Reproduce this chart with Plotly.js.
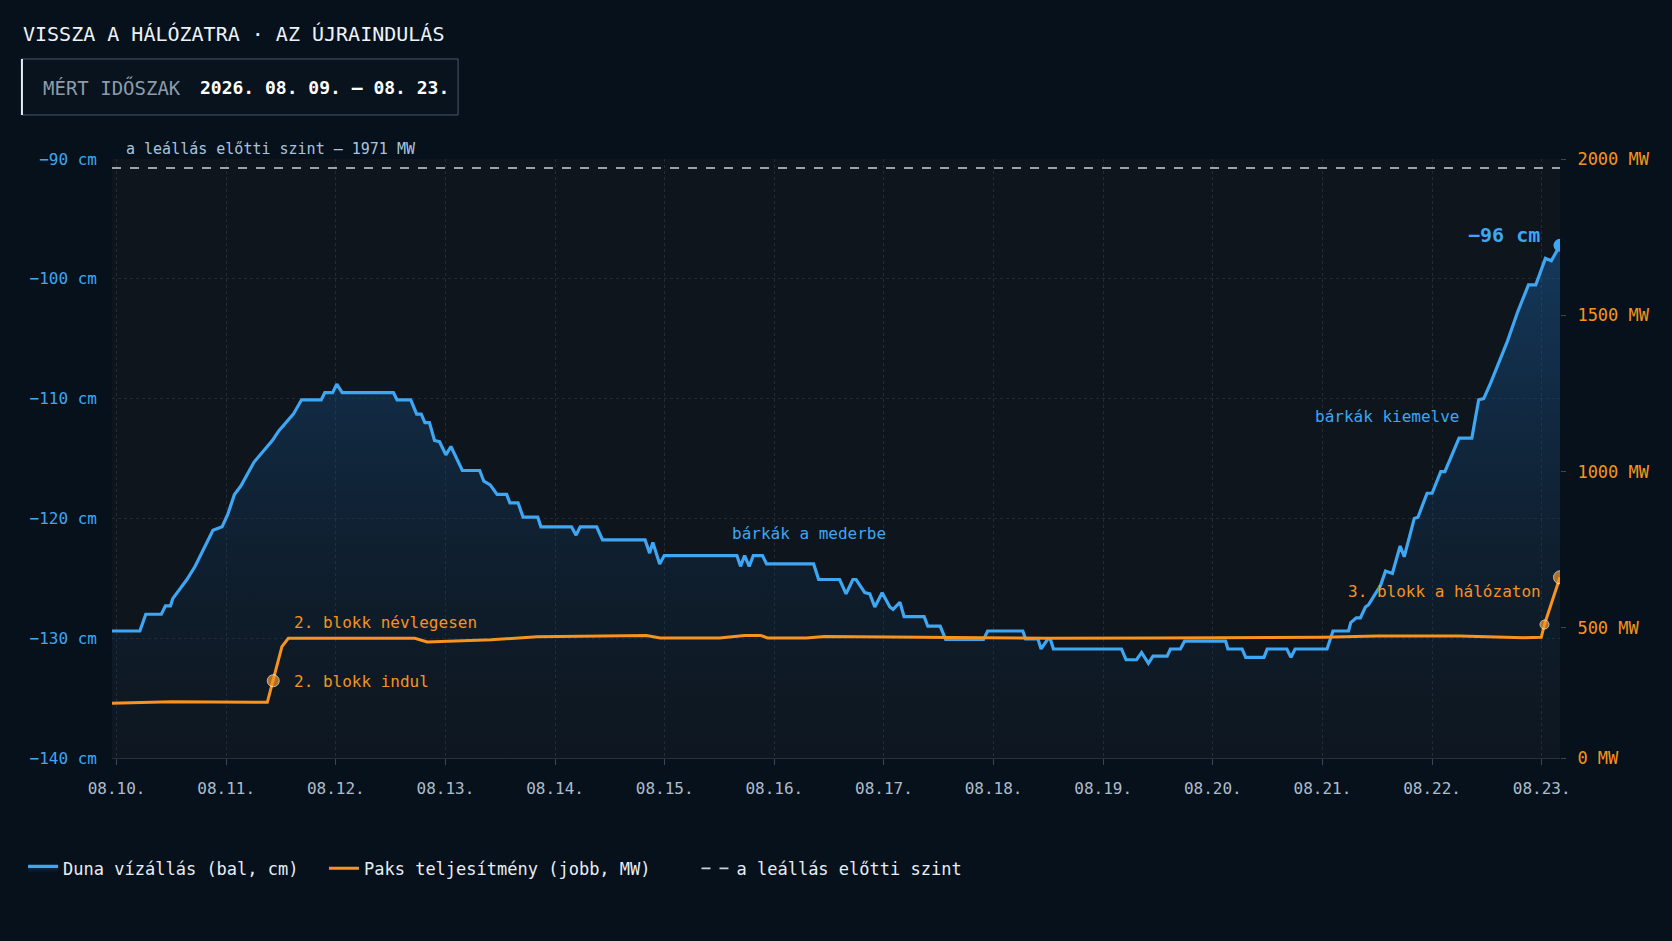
<!DOCTYPE html>
<html>
<head>
<meta charset="utf-8">
<script src="https://cdn.plot.ly/plotly-3.0.1.min.js"></script>
<style>
  html, body { margin: 0; padding: 0; background: #06111c; }
  #chart { width: 1672px; height: 941px; }
</style>
</head>
<body>
<div id="chart"></div>
<script>
// Duna vízállás (cm), leolvasva a mért időszakból
var levelTimes = [
  '2026-08-09 23:00', '2026-08-10 05:06', '2026-08-10 06:24', '2026-08-10 09:48', '2026-08-10 10:42',
  '2026-08-10 11:48', '2026-08-10 12:18', '2026-08-10 13:36', '2026-08-10 15:24', '2026-08-10 17:12',
  '2026-08-10 19:12', '2026-08-10 21:06', '2026-08-10 23:06', '2026-08-11 00:24', '2026-08-11 01:48',
  '2026-08-11 03:12', '2026-08-11 06:06', '2026-08-11 07:30', '2026-08-11 10:06', '2026-08-11 11:30',
  '2026-08-11 13:36', '2026-08-11 14:42', '2026-08-11 16:30', '2026-08-11 20:48', '2026-08-11 21:36',
  '2026-08-11 23:18', '2026-08-12 00:12', '2026-08-12 01:24', '2026-08-12 12:36', '2026-08-12 13:24',
  '2026-08-12 16:24', '2026-08-12 17:42', '2026-08-12 18:42', '2026-08-12 19:30', '2026-08-12 20:30',
  '2026-08-12 21:36', '2026-08-12 22:42', '2026-08-13 00:06', '2026-08-13 01:12', '2026-08-13 03:42',
  '2026-08-13 07:30', '2026-08-13 08:24', '2026-08-13 09:48', '2026-08-13 11:18', '2026-08-13 13:24',
  '2026-08-13 14:06', '2026-08-13 15:54', '2026-08-13 17:00', '2026-08-13 20:12', '2026-08-13 20:54',
  '2026-08-14 03:36', '2026-08-14 04:36', '2026-08-14 05:30', '2026-08-14 09:06', '2026-08-14 10:24',
  '2026-08-14 19:42', '2026-08-14 20:42', '2026-08-14 21:24', '2026-08-14 22:54', '2026-08-14 23:54',
  '2026-08-15 15:48', '2026-08-15 16:36', '2026-08-15 17:30', '2026-08-15 18:30', '2026-08-15 19:24',
  '2026-08-15 21:24', '2026-08-15 22:18', '2026-08-16 08:36', '2026-08-16 09:42', '2026-08-16 14:18',
  '2026-08-16 15:42', '2026-08-16 17:12', '2026-08-16 17:54', '2026-08-16 19:48', '2026-08-16 20:54',
  '2026-08-16 22:00', '2026-08-16 23:36', '2026-08-17 01:18', '2026-08-17 02:00', '2026-08-17 03:30',
  '2026-08-17 04:24', '2026-08-17 08:48', '2026-08-17 09:36', '2026-08-17 12:18', '2026-08-17 13:30',
  '2026-08-17 21:48', '2026-08-17 22:42', '2026-08-18 06:24', '2026-08-18 07:00', '2026-08-18 09:42',
  '2026-08-18 10:24', '2026-08-18 11:54', '2026-08-18 12:24', '2026-08-18 13:06', '2026-08-19 04:00',
  '2026-08-19 05:00', '2026-08-19 07:18', '2026-08-19 08:24', '2026-08-19 09:54', '2026-08-19 10:54',
  '2026-08-19 14:00', '2026-08-19 14:42', '2026-08-19 16:54', '2026-08-19 17:48', '2026-08-20 02:48',
  '2026-08-20 03:18', '2026-08-20 06:24', '2026-08-20 07:12', '2026-08-20 11:12', '2026-08-20 11:54',
  '2026-08-20 16:12', '2026-08-20 17:06', '2026-08-20 18:00', '2026-08-21 01:00', '2026-08-21 02:18',
  '2026-08-21 05:42', '2026-08-21 06:12', '2026-08-21 07:24', '2026-08-21 08:18', '2026-08-21 09:24',
  '2026-08-21 10:06', '2026-08-21 12:42', '2026-08-21 13:48', '2026-08-21 15:18', '2026-08-21 17:00',
  '2026-08-21 17:54', '2026-08-21 20:06', '2026-08-21 20:54', '2026-08-21 22:54', '2026-08-22 00:00',
  '2026-08-22 01:54', '2026-08-22 02:48', '2026-08-22 05:54', '2026-08-22 08:42', '2026-08-22 10:12',
  '2026-08-22 11:18', '2026-08-22 12:48', '2026-08-22 16:30', '2026-08-22 18:42', '2026-08-22 21:06',
  '2026-08-22 22:42', '2026-08-23 00:48', '2026-08-23 02:06', '2026-08-23 04:00'
];
var levelCm = [
  -129.4, -129.4, -128, -128, -127.3,
  -127.3, -126.7, -126, -125.1, -124,
  -122.4, -121, -120.7, -119.6, -118,
  -117.3, -115.3, -114.7, -113.5, -112.7,
  -111.8, -111.3, -110.1, -110.1, -109.5,
  -109.5, -108.8, -109.5, -109.5, -110.1,
  -110.1, -111.3, -111.3, -112, -112,
  -113.5, -113.6, -114.7, -114, -116,
  -116, -116.9, -117.2, -118, -118,
  -118.7, -118.7, -119.9, -119.9, -120.7,
  -120.7, -121.4, -120.7, -120.7, -121.8,
  -121.8, -122.9, -122, -123.8, -123.1,
  -123.1, -124, -123.1, -124, -123.1,
  -123.1, -123.8, -123.8, -125.1, -125.1,
  -126.3, -125.1, -125.1, -126.2, -126.3,
  -127.4, -126.2, -127.4, -127.6, -127,
  -128.2, -128.2, -129, -129, -130.1,
  -130.1, -129.4, -129.4, -130.05, -130.05,
  -130.9, -130.05, -130.05, -130.9, -130.9,
  -131.8, -131.8, -131.2, -132.1, -131.5,
  -131.5, -130.9, -130.9, -130.25, -130.25,
  -130.9, -130.9, -131.6, -131.6, -130.9,
  -130.9, -131.6, -130.9, -130.9, -129.4,
  -129.4, -128.7, -128.3, -128.3, -127.4,
  -127.2, -125.6, -124.4, -124.6, -122.3,
  -123.2, -120, -119.9, -117.9, -117.9,
  -116.1, -116.1, -113.3, -113.3, -110.1,
  -110, -108.7, -105.2, -102.8, -100.5,
  -100.5, -98.3, -98.5, -97.2
];

// Paks teljesítmény (MW)
var powerTimes = [
  '2026-08-09 23:00', '2026-08-10 12:00', '2026-08-11 09:00', '2026-08-11 10:18', '2026-08-11 12:12',
  '2026-08-11 13:36', '2026-08-12 17:18', '2026-08-12 20:00', '2026-08-13 10:00', '2026-08-13 20:00',
  '2026-08-14 08:00', '2026-08-14 20:00', '2026-08-14 23:00', '2026-08-15 12:00', '2026-08-15 17:30',
  '2026-08-15 21:00', '2026-08-15 22:30', '2026-08-16 07:00', '2026-08-16 11:00', '2026-08-16 23:00',
  '2026-08-17 12:00', '2026-08-17 20:00', '2026-08-18 12:00', '2026-08-19 12:00', '2026-08-20 12:00',
  '2026-08-21 00:00', '2026-08-21 12:00', '2026-08-22 06:00', '2026-08-22 20:00', '2026-08-22 23:54',
  '2026-08-23 00:36', '2026-08-23 04:00'
];
var powerMW = [
  259, 264, 262, 331, 440,
  467, 467, 455, 462, 472,
  474, 476, 468, 468, 476,
  476, 468, 468, 473, 472,
  470, 468, 467, 468, 469,
  470, 474, 474, 469, 470,
  511, 662
];

var powerEvents = ['2026-08-11 10:18', '2026-08-23 00:36', '2026-08-23 04:00'];
var preShutdownMW = 1971;

var leftTicks = [-140, -130, -120, -110, -100, -90];
var rightTickVals = [84, 500, 1000, 1500, 2000];
var rightTickText = ['0 MW', '500 MW', '1000 MW', '1500 MW', '2000 MW'];

var MONO = 'DejaVu Sans Mono, Liberation Mono, monospace';
var BLUE = '#3ea6f2';
var ORANGE = '#f7931e';
var NB = '\u00a0';

var xStart = levelTimes[0];
var xEnd = levelTimes[levelTimes.length - 1];

var evX = [], evY = [];
powerTimes.forEach(function (t, i) {
  if (powerEvents.indexOf(t) >= 0) { evX.push(t); evY.push(powerMW[i]); }
});

var baseline = {
  x: [xStart, xEnd], y: [-140, -140], yaxis: 'y',
  mode: 'lines', line: {width: 0}, showlegend: false, hoverinfo: 'skip'
};

var level = {
  x: levelTimes, y: levelCm, yaxis: 'y',
  name: 'Duna vízállás (bal, cm)' + NB + NB,
  mode: 'lines', line: {color: BLUE, width: 3.2},
  fill: 'tonexty',
  fillgradient: {
    type: 'vertical',
    colorscale: [[0, 'rgba(12,40,70,0.10)'], [1, 'rgba(28,100,170,0.45)']]
  }
};

var power = {
  x: powerTimes, y: powerMW, yaxis: 'y2',
  name: 'Paks teljesítmény (jobb, MW)' + NB + NB + NB + NB,
  mode: 'lines', line: {color: ORANGE, width: 3}
};

var preLevel = {
  x: [xStart, xEnd], y: [preShutdownMW, preShutdownMW], yaxis: 'y2',
  name: 'a leállás előtti szint',
  mode: 'lines', line: {color: '#c9d2db', width: 1.6, dash: 'dash'}
};

var powerDots = {
  x: evX, y: evY, yaxis: 'y2', mode: 'markers', showlegend: false,
  marker: {color: ORANGE, size: [12, 9, 13]}
};

var levelDot = {
  x: [xEnd], y: [levelCm[levelCm.length - 1]], yaxis: 'y', mode: 'markers', showlegend: false,
  marker: {color: BLUE, size: 13}
};

var data = [baseline, level, power, preLevel, powerDots, levelDot];

var annFont = function (c, s) { return {family: MONO, size: s || 16, color: c}; };

var layout = {
  width: 1672,
  height: 941,
  paper_bgcolor: '#06111c',
  plot_bgcolor: '#0e151c',
  margin: {l: 112, r: 112, t: 159, b: 183},
  font: {family: MONO, color: '#c6d3df'},
  showlegend: true,
  legend: {
    orientation: 'h', x: -0.0614, y: -0.185, xanchor: 'left', yanchor: 'middle',
    font: {family: MONO, size: 17, color: '#e8eef5'}, bgcolor: 'rgba(0,0,0,0)',
    itemwidth: 30, traceorder: 'normal'
  },
  xaxis: {
    type: 'date',
    range: [xStart, xEnd],
    tick0: '2026-08-10', dtick: 86400000,
    tickformat: '%m.%d.',
    tickfont: {family: MONO, size: 16, color: '#aebdcc'},
    ticks: 'outside', ticklen: 6, tickcolor: '#3a4656',
    ticklabelstandoff: 10,
    showgrid: true, gridcolor: 'rgba(160,180,200,0.15)', griddash: 'dot',
    showline: true, linecolor: '#26313d', zeroline: false
  },
  yaxis: {
    range: [-140, -90],
    tickvals: leftTicks,
    ticktext: leftTicks.map(function (v) { return '−' + Math.abs(v) + ' cm'; }),
    tickfont: {family: MONO, size: 16, color: BLUE},
    ticklabelstandoff: 14,
    showgrid: true, gridcolor: 'rgba(160,180,200,0.13)', griddash: 'dot',
    zeroline: false, showline: false
  },
  yaxis2: {
    overlaying: 'y', side: 'right',
    range: [84, 2000],
    tickvals: rightTickVals, ticktext: rightTickText,
    tickfont: {family: MONO, size: 17, color: ORANGE},
    ticks: 'outside', ticklen: 5, tickcolor: '#3a4656',
    ticklabelstandoff: 8,
    showgrid: false, zeroline: false, showline: false
  },
  shapes: [
    {type: 'rect', xref: 'paper', yref: 'paper', x0: -0.0622, x1: 0.239, y0: 1.0735, y1: 1.167,
     line: {color: '#4b5967', width: 1}, fillcolor: '#08131e', layer: 'above'},
    {type: 'line', xref: 'paper', yref: 'paper', x0: -0.0622, x1: -0.0622, y0: 1.0735, y1: 1.167,
     line: {color: '#e6edf3', width: 2}}
  ],
  annotations: [
    {xref: 'paper', yref: 'paper', x: -0.0628, y: 1.2087, xanchor: 'left', yanchor: 'middle',
     text: 'VISSZA A HÁLÓZATRA · AZ ÚJRAINDULÁS', showarrow: false, font: annFont('#eef3f8', 20)},
    {xref: 'paper', yref: 'paper', x: -0.049, y: 1.1202, xanchor: 'left', yanchor: 'middle',
     text: 'MÉRT IDŐSZAK', showarrow: false, font: annFont('#8c9cab', 19)},
    {xref: 'paper', yref: 'paper', x: 0.0594, y: 1.1202, xanchor: 'left', yanchor: 'middle',
     text: '<b>2026. 08. 09. – 08. 23.</b>', showarrow: false, font: annFont('#ffffff', 18)},
    {xref: 'paper', yref: 'paper', x: 0.0083, y: 1.016, xanchor: 'left', yanchor: 'middle',
     text: 'a leállás előtti szint – 1971 MW', showarrow: false, font: annFont('#a9c4dc', 15)},
    {x: xEnd, y: levelCm[levelCm.length - 1], xref: 'x', yref: 'y', xanchor: 'right', yanchor: 'middle',
     xshift: -18, yshift: 10, text: '<b>−96 cm</b>', showarrow: false, font: annFont(BLUE, 20)},
    {x: '2026-08-20 22:00', y: -111.5, xref: 'x', yref: 'y', xanchor: 'left', yanchor: 'middle',
     text: 'bárkák kiemelve', showarrow: false, font: annFont(BLUE, 16)},
    {x: '2026-08-15 14:20', y: -121.3, xref: 'x', yref: 'y', xanchor: 'left', yanchor: 'middle',
     text: 'bárkák a mederbe', showarrow: false, font: annFont(BLUE, 16)},
    {x: '2026-08-23 00:13', y: 615, xref: 'x', yref: 'y2', xanchor: 'right', yanchor: 'middle',
     text: '3. blokk a hálózaton', showarrow: false, font: annFont(ORANGE, 16)},
    {x: '2026-08-11 14:30', y: 519, xref: 'x', yref: 'y2', xanchor: 'left', yanchor: 'middle',
     text: '2. blokk névlegesen', showarrow: false, font: annFont(ORANGE, 16)},
    {x: '2026-08-11 14:30', y: 330, xref: 'x', yref: 'y2', xanchor: 'left', yanchor: 'middle',
     text: '2. blokk indul', showarrow: false, font: annFont(ORANGE, 16)}
  ],
  hovermode: false
};

Plotly.newPlot('chart', data, layout, {displayModeBar: false, staticPlot: true});
</script>
</body>
</html>
